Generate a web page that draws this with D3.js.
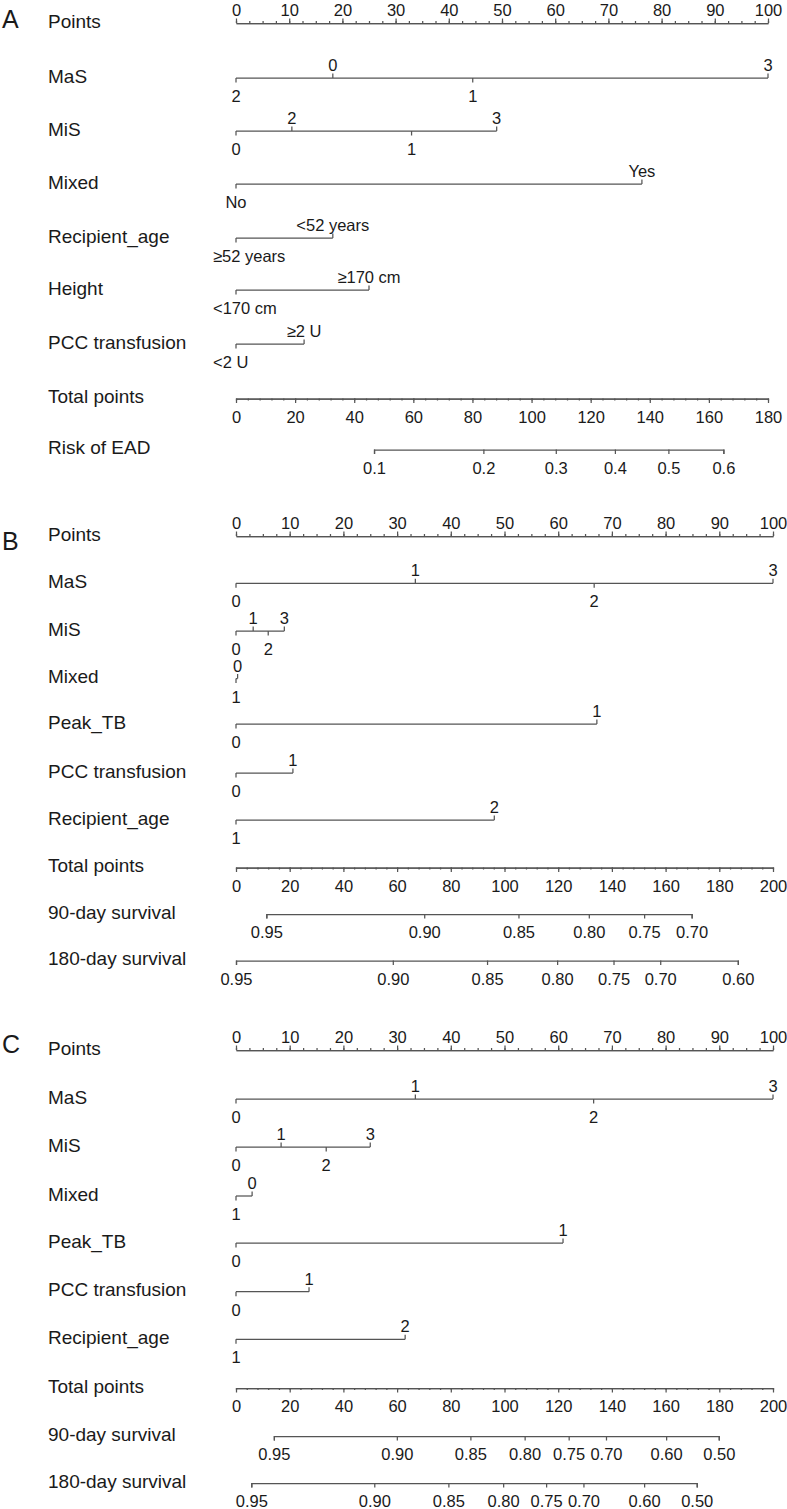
<!DOCTYPE html>
<html>
<head>
<meta charset="utf-8">
<script src="https://cdn.jsdelivr.net/npm/d3@7"></script>
<style>
body { margin: 0; background: #fff; }
text { font-family: "Liberation Sans", Arial, sans-serif; fill: #1a1a1a; }
</style>
</head>
<body>
<div id="vis"></div>
<script>
// row names
const rowsA = ["Points","MaS","MiS","Mixed","Recipient_age","Height","PCC transfusion","Total points","Risk of EAD"];
const rowsBC = ["Points","MaS","MiS","Mixed","Peak_TB","PCC transfusion","Recipient_age","Total points","90-day survival","180-day survival"];

// panel A : levels and points
const aMaS = ["0","1","2","3"],            aMaSPts = [18.2, 44.5, 0, 100];
const aMiS = ["0","1","2","3"],            aMiSPts = [0, 33.0, 10.5, 49.0];
const aMixed = ["No","Yes"],               aMixedPts = [0, 76.3];
const aAge = ["<52 years","≥52 years"],    aAgePts = [18.2, 0];
const aHeight = ["<170 cm","≥170 cm"],     aHeightPts = [0, 25.0];
const aPCC = ["<2 U","≥2 U"],              aPCCPts = [0, 12.8];
const aRisk = [0.1, 0.2, 0.3, 0.4, 0.5, 0.6];
const aRiskTotal = [46.7, 83.7, 108.2, 128.2, 146.3, 164.9];

// panel B
const bMaS = ["0","1","2","3"],   bMaSPts = [0, 33.4, 66.7, 100];
const bMiS = ["0","1","2","3"],   bMiSPts = [0, 3.2, 6.0, 9.0];
const bMixed = ["0","1"],         bMixedPts = [0.3, 0];
const bPeak = ["0","1"],          bPeakPts = [0, 67.2];
const bPCC = ["0","1"],           bPCCPts = [0, 10.6];
const bAge = ["1","2"],           bAgePts = [0, 48.1];
const b90 = [0.95, 0.90, 0.85, 0.80, 0.75, 0.70];
const b90Total = [11.3, 70.1, 105.2, 131.4, 152.0, 169.7];
const b180 = [0.95, 0.90, 0.85, 0.80, 0.75, 0.70, 0.60];
const b180Total = [0, 58.4, 93.5, 119.6, 140.6, 158.0, 186.9];

// panel C
const cMaS = ["0","1","2","3"],   cMaSPts = [0, 33.4, 66.6, 100];
const cMiS = ["0","1","2","3"],   cMiSPts = [0, 8.4, 16.8, 25.0];
const cMixed = ["0","1"],         cMixedPts = [3.0, 0];
const cPeak = ["0","1"],          cPeakPts = [0, 60.9];
const cPCC = ["0","1"],           cPCCPts = [0, 13.6];
const cAge = ["1","2"],           cAgePts = [0, 31.5];
const c90 = [0.95, 0.90, 0.85, 0.80, 0.75, 0.70, 0.60, 0.50];
const c90Total = [14.1, 59.9, 87.3, 107.5, 123.9, 137.8, 160.2, 179.8];
const c180 = [0.95, 0.90, 0.85, 0.80, 0.75, 0.70, 0.60, 0.50];
const c180Total = [5.7, 51.5, 79.1, 99.5, 115.5, 129.4, 152.0, 171.6];

const lineCol = "#555";
const x0 = 236, minLeft = 213;

const panels = [
  { letter: "A", letterY: 28, x1: 768, totalMax: 180, names: rowsA,
    ys: [23, 78, 131, 184, 238, 290, 344, 398.5, 449.5],
    rows: [ {type:"points"},
      {type:"var", lv:aMaS, pts:aMaSPts}, {type:"var", lv:aMiS, pts:aMiSPts},
      {type:"var", lv:aMixed, pts:aMixedPts}, {type:"var", lv:aAge, pts:aAgePts},
      {type:"var", lv:aHeight, pts:aHeightPts}, {type:"var", lv:aPCC, pts:aPCCPts},
      {type:"total"}, {type:"prob", lv:aRisk, pts:aRiskTotal, fmt:".1f"} ] },
  { letter: "B", letterY: 550, x1: 773, totalMax: 200, names: rowsBC,
    ys: [536, 583.3, 631, 678.5, 724, 773, 820, 867.5, 914, 960.5],
    rows: [ {type:"points"},
      {type:"var", lv:bMaS, pts:bMaSPts}, {type:"var", lv:bMiS, pts:bMiSPts},
      {type:"var", lv:bMixed, pts:bMixedPts}, {type:"var", lv:bPeak, pts:bPeakPts},
      {type:"var", lv:bPCC, pts:bPCCPts}, {type:"var", lv:bAge, pts:bAgePts},
      {type:"total"}, {type:"prob", lv:b90, pts:b90Total, fmt:".2f"},
      {type:"prob", lv:b180, pts:b180Total, fmt:".2f"} ] },
  { letter: "C", letterY: 1053, x1: 773, totalMax: 200, names: rowsBC,
    ys: [1050, 1099, 1147, 1196, 1243, 1291.7, 1339.3, 1388, 1436, 1483],
    rows: [ {type:"points"},
      {type:"var", lv:cMaS, pts:cMaSPts}, {type:"var", lv:cMiS, pts:cMiSPts},
      {type:"var", lv:cMixed, pts:cMixedPts}, {type:"var", lv:cPeak, pts:cPeakPts},
      {type:"var", lv:cPCC, pts:cPCCPts}, {type:"var", lv:cAge, pts:cAgePts},
      {type:"total"}, {type:"prob", lv:c90, pts:c90Total, fmt:".2f"},
      {type:"prob", lv:c180, pts:c180Total, fmt:".2f"} ] }
];

var svg = d3.select("#vis").append("svg")
  .attr("width", 787)
  .attr("height", 1509);

function styleAxis(g) {
  g.selectAll("path, line").attr("stroke", lineCol).attr("stroke-width", 1.25);
  g.selectAll("text").style("font-size", "16.5px").attr("fill", "#1a1a1a");
}

panels.forEach(function(p) {
  var x = d3.scaleLinear().domain([0, 100]).range([x0, p.x1]);
  var xt = d3.scaleLinear().domain([0, p.totalMax]).range([x0, p.x1]);

  svg.append("text")
    .attr("x", 2).attr("y", p.letterY)
    .style("font-size", "25px")
    .text(p.letter);

  p.rows.forEach(function(r, i) {
    var y = p.ys[i];

    svg.append("text")
      .attr("x", 48).attr("y", y + 4.5)
      .style("font-size", "19px")
      .text(p.names[i]);

    if (r.type == "points") {
      var gm = svg.append("g").attr("transform", "translate(0," + y + ")")
        .call(d3.axisTop(x).tickValues(d3.range(0, 100.1, 2.5)).tickSize(2).tickSizeOuter(0).tickFormat(""));
      styleAxis(gm);
      var g = svg.append("g").attr("transform", "translate(0," + y + ")")
        .call(d3.axisTop(x).tickValues(d3.range(0, 101, 10)).tickSize(4.5).tickSizeOuter(0).tickPadding(2.5));
      styleAxis(g);
    }
    else if (r.type == "total") {
      var gm2 = svg.append("g").attr("transform", "translate(0," + y + ")")
        .call(d3.axisBottom(xt).tickValues(d3.range(0, p.totalMax + 0.1, 4)).tickSize(2).tickSizeOuter(0).tickFormat(""));
      styleAxis(gm2);
      var g2 = svg.append("g").attr("transform", "translate(0," + y + ")")
        .call(d3.axisBottom(xt).tickValues(d3.range(0, p.totalMax + 1, 20)).tickSize(4.5).tickSizeOuter(0));
      styleAxis(g2);
      g2.selectAll("text").attr("y", 24).attr("dy", 0);
    }
    else if (r.type == "prob") {
      var ext = d3.extent(r.pts);
      var xs = d3.scaleLinear().domain(ext).range(ext.map(xt));
      var f = d3.format(r.fmt);
      var g3 = svg.append("g").attr("transform", "translate(0," + y + ")")
        .call(d3.axisBottom(xs).tickValues(r.pts).tickSize(4.5).tickSizeOuter(4.5)
          .tickFormat(function(d, j) { return f(r.lv[j]); }));
      styleAxis(g3);
      g3.selectAll("text").attr("y", 24).attr("dy", 0);
    }
    else {
      // variable row: labels alternate below / above in order of points
      var order = d3.range(r.pts.length).sort(function(a, b) { return r.pts[a] - r.pts[b]; });
      var ext2 = d3.extent(r.pts);
      var gv = svg.append("g");
      gv.append("line")
        .attr("x1", x(ext2[0])).attr("x2", x(ext2[1]))
        .attr("y1", y).attr("y2", y)
        .attr("stroke", lineCol).attr("stroke-width", 1.25);
      order.forEach(function(k, rank) {
        var up = rank % 2 == 1;
        var tx = x(r.pts[k]);
        gv.append("line")
          .attr("x1", tx).attr("x2", tx)
          .attr("y1", y).attr("y2", up ? y - 4.5 : y + 4.5)
          .attr("stroke", lineCol).attr("stroke-width", 1.25);
        var t = gv.append("text")
          .attr("x", tx).attr("y", up ? y - 7 : y + 24)
          .attr("text-anchor", "middle")
          .style("font-size", "16.5px")
          .text(r.lv[k]);
        var w = t.node().getComputedTextLength();
        // long labels at the left end are pushed to start at the label margin
        if (tx - w / 2 < minLeft + 7) {
          t.attr("text-anchor", "start").attr("x", minLeft);
        }
      });
    }
  });
});
</script>
</body>
</html>
